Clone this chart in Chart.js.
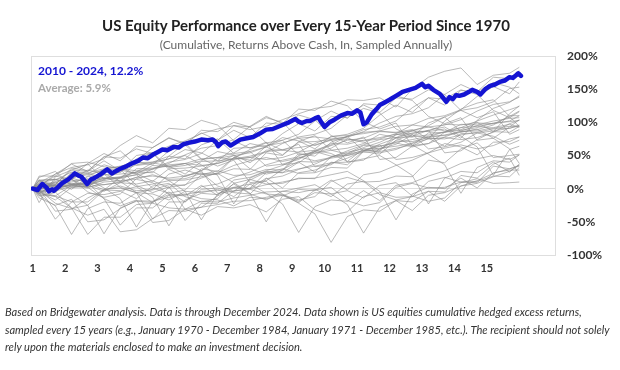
<!DOCTYPE html>
<html>
<head>
<meta charset="utf-8">
<script src="https://cdn.jsdelivr.net/npm/chart.js@4.4.1/dist/chart.umd.min.js"></script>
<style>
  html, body { margin: 0; padding: 0; background: #fff; }
  #wrap { position: relative; width: 620px; height: 370px; overflow: hidden; font-family: Lato, "Open Sans", sans-serif; }
  #chart { position: absolute; left: 0; top: 0; }
  .title { position: absolute; left: 0; width: 612px; top: 16px; text-align: center; font-size: 15px; font-weight: 700; color: #222; }
  .subtitle { position: absolute; left: 0; width: 612px; top: 37px; text-align: center; font-size: 12px; color: #666; }
  .lg { position: absolute; left: 38px; font-weight: 700; white-space: nowrap; }
  .lg1 { top: 63px; font-size: 12px; color: #1414d2; }
  .lg2 { top: 81px; font-size: 11.5px; color: #aaa; }
  .note { position: absolute; left: 5px; top: 303px; width: 615px; font-size: 11.1px; line-height: 17.5px; font-style: italic; color: #333; white-space: nowrap; }
</style>
</head>
<body>
<div id="wrap">
  <canvas id="chart" width="620" height="370"></canvas>
  <div class="title">US Equity Performance over Every 15-Year Period Since 1970</div>
  <div class="subtitle">(Cumulative, Returns Above Cash, In, Sampled Annually)</div>
  <div class="lg lg1">2010 - 2024, 12.2%</div>
  <div class="lg lg2">Average: 5.9%</div>
  <div class="note">Based on Bridgewater analysis. Data is through December 2024. Data shown is US equities cumulative hedged excess returns,<br>sampled every 15 years (e.g., January 1970 - December 1984, January 1971 - December 1985, etc.). The recipient should not solely<br>rely upon the materials enclosed to make an investment decision.</div>
</div>
<script>
// x positions are "year of period" (1 = start, 16 = end of year 15)
const xTicks = [1, 2, 3, 4, 5, 6, 7, 8, 9, 10, 11, 12, 13, 14, 15];
const yTicks = [-100, -50, 0, 50, 100, 150, 200];

// 2010 - 2024 path, cumulative %
const blueX = [1, 1.15, 1.3, 1.42, 1.5, 1.6, 1.65, 1.8, 1.9, 2.1, 2.3, 2.4, 2.5, 2.6, 2.68, 2.8, 2.9, 3.1, 3.3, 3.45,
  3.55, 3.7, 3.9, 4.1, 4.25, 4.4, 4.55, 4.7, 4.85, 5, 5.15, 5.35, 5.5, 5.65, 5.8, 6, 6.2, 6.4, 6.55, 6.65,
  6.72, 6.85, 6.95, 7.1, 7.2, 7.4, 7.6, 7.8, 8, 8.2, 8.4, 8.55, 8.7, 8.9, 9.1, 9.2, 9.3, 9.45, 9.55, 9.7,
  9.8, 9.9, 10, 10.15, 10.3, 10.5, 10.7, 10.85, 11, 11.1, 11.2, 11.3, 11.45, 11.6, 11.7, 11.85, 12, 12.2, 12.4, 12.6,
  12.8, 12.9, 13, 13.1, 13.2, 13.35, 13.45, 13.55, 13.65, 13.75, 13.85, 13.95, 14.05, 14.15, 14.3, 14.45, 14.55, 14.7, 14.8, 14.95,
  15.1, 15.25, 15.4, 15.55, 15.7, 15.8, 15.9, 15.97, 16.05];
const blueY = [0, -2, 7, 2, -4, -1, -3, 3, 8, 14, 23, 20, 18, 12, 7, 14, 16, 22, 29, 23,
  26, 30, 34, 39, 42, 47, 46, 51, 55, 59, 58, 63, 62, 67, 69, 71, 74, 73, 74, 70,
  64, 70, 71, 65, 68, 74, 76, 78, 83, 89, 90, 93, 96, 100, 105, 101, 99, 102, 102, 106,
  108, 100, 93, 100, 104, 110, 114, 113, 118, 115, 97, 100, 112, 120, 126, 130, 134, 140, 146, 149,
  152, 155, 158, 153, 155, 149, 146, 143, 137, 131, 138, 135, 141, 140, 142, 146, 149, 146, 142, 150,
  155, 157, 161, 163, 168, 167, 171, 174, 170];

// other 15-year periods, sampled at start, Mar/Sep of each year, and end
const grayX = [1, 1.2, 1.7, 2.2, 2.7, 3.2, 3.7, 4.2, 4.7, 5.2, 5.7, 6.2, 6.7, 7.2, 7.7, 8.2, 8.7,
  9.2, 9.7, 10.2, 10.7, 11.2, 11.7, 12.2, 12.7, 13.2, 13.7, 14.2, 14.7, 15.2, 15.7, 16];
const p1970 = [0, -4, -11, 5, 1, 10, 12, 14, 9, -8, -48, -22, -22, -3, -1, -8, -10, -19, -6, -8, -3, -14, 5, 9, -11, -19, -14, 9, 15, 8, 9, 10];
const p1971 = [0, 7, 3, 12, 14, 16, 11, -6, -46, -20, -20, -1, 1, -6, -8, -17, -4, -6, -1, -12, 7, 11, -9, -17, -12, 11, 17, 10, 11, 19, 18, 32];
const p1972 = [0, 3, 5, 7, 2, -15, -55, -29, -29, -10, -8, -15, -17, -26, -13, -15, -10, -21, -2, 2, -18, -26, -21, 2, 8, 1, 2, 10, 9, 34, 30, 34];
const p1973 = [0, -7, -12, -29, -69, -43, -43, -24, -22, -29, -31, -40, -27, -29, -24, -35, -16, -12, -32, -40, -35, -12, -6, -13, -12, -4, -5, 20, 16, 37, 46, 20];
const p1974 = [0, -6, -46, -20, -20, -1, 1, -6, -8, -17, -4, -6, -1, -12, 7, 11, -9, -17, -12, 11, 17, 10, 11, 19, 18, 43, 39, 60, 69, 47, 50, 52];
const p1975 = [0, 19, 19, 38, 40, 33, 31, 22, 35, 33, 38, 27, 46, 50, 30, 22, 27, 50, 56, 49, 50, 58, 57, 82, 78, 99, 108, 86, 89, 96, 110, 110];
const p1976 = [0, 12, 14, 7, 5, -4, 9, 7, 12, 1, 20, 24, 4, -4, 1, 24, 30, 23, 24, 32, 31, 56, 52, 73, 82, 60, 63, 70, 84, 79, 67, 73];
const p1977 = [0, -9, -11, -20, -7, -9, -4, -15, 4, 8, -12, -20, -15, 8, 14, 7, 8, 16, 15, 40, 36, 57, 66, 44, 47, 54, 68, 63, 51, 70, 71, 78];
const p1978 = [0, -7, 6, 4, 9, -2, 17, 21, 1, -7, -2, 21, 27, 20, 21, 29, 28, 53, 49, 70, 79, 57, 60, 67, 81, 76, 64, 83, 84, 87, 91, 95];
const p1979 = [0, 5, 10, -1, 18, 22, 2, -6, -1, 22, 28, 21, 22, 30, 29, 54, 50, 71, 80, 58, 61, 68, 82, 77, 65, 84, 85, 88, 92, 99, 101, 103];
const p1980 = [0, -8, 11, 15, -5, -13, -8, 15, 21, 14, 15, 23, 22, 47, 43, 64, 73, 51, 54, 61, 75, 70, 58, 77, 78, 81, 85, 92, 94, 91, 94, 93];
const p1981 = [0, -2, -22, -30, -25, -2, 4, -3, -2, 6, 5, 30, 26, 47, 56, 34, 37, 44, 58, 53, 41, 60, 61, 64, 68, 75, 77, 74, 77, 85, 98, 103];
const p1982 = [0, -11, -6, 17, 23, 16, 17, 25, 24, 49, 45, 66, 75, 53, 56, 63, 77, 72, 60, 79, 80, 83, 87, 94, 96, 93, 96, 104, 117, 127, 131, 138];
const p1983 = [0, 8, 14, 7, 8, 16, 15, 40, 36, 57, 66, 44, 47, 54, 68, 63, 51, 70, 71, 74, 78, 85, 87, 84, 87, 95, 108, 118, 122, 131, 151, 153];
const p1984 = [0, -5, -4, 4, 3, 28, 24, 45, 54, 32, 35, 42, 56, 51, 39, 58, 59, 62, 66, 73, 75, 72, 75, 83, 96, 106, 110, 119, 139, 154, 143, 161];
const p1985 = [0, 7, 6, 31, 27, 48, 57, 35, 38, 45, 59, 54, 42, 61, 62, 65, 69, 76, 78, 75, 78, 86, 99, 109, 113, 122, 142, 157, 146, 168, 166, 178];
const p1986 = [0, 11, 7, 28, 37, 15, 18, 25, 39, 34, 22, 41, 42, 45, 49, 56, 58, 55, 58, 66, 79, 89, 93, 102, 122, 137, 126, 148, 146, 160, 153, 143];
const p1987 = [0, 17, 26, 4, 7, 14, 28, 23, 11, 30, 31, 34, 38, 45, 47, 44, 47, 55, 68, 78, 82, 91, 111, 126, 115, 137, 135, 149, 142, 118, 107, 116];
const p1988 = [0, 4, 7, 14, 28, 23, 11, 30, 31, 34, 38, 45, 47, 44, 47, 55, 68, 78, 82, 91, 111, 126, 115, 137, 135, 149, 142, 118, 107, 116, 82, 89];
const p1989 = [0, 5, 19, 14, 2, 21, 22, 25, 29, 36, 38, 35, 38, 46, 59, 69, 73, 82, 102, 117, 106, 128, 126, 140, 133, 109, 98, 107, 73, 76, 93, 104];
const p1990 = [0, -5, -17, 2, 3, 6, 10, 17, 19, 16, 19, 27, 40, 50, 54, 63, 83, 98, 87, 109, 107, 121, 114, 90, 79, 88, 54, 57, 74, 86, 85, 94];
const p1991 = [0, 13, 14, 17, 21, 28, 30, 27, 30, 38, 51, 61, 65, 74, 94, 109, 98, 120, 118, 132, 125, 101, 90, 99, 65, 68, 85, 97, 96, 102, 106, 107];
const p1992 = [0, -4, 0, 7, 9, 6, 9, 17, 30, 40, 44, 53, 73, 88, 77, 99, 97, 111, 104, 80, 69, 78, 44, 47, 64, 76, 75, 81, 85, 90, 91, 96];
const p1993 = [0, 3, 5, 2, 5, 13, 26, 36, 40, 49, 69, 84, 73, 95, 93, 107, 100, 76, 65, 74, 40, 43, 60, 72, 71, 77, 81, 86, 87, 92, 97, 93];
const p1994 = [0, -5, -2, 6, 19, 29, 33, 42, 62, 77, 66, 88, 86, 100, 93, 69, 58, 67, 33, 36, 53, 65, 64, 70, 74, 79, 80, 85, 90, 76, 60, 38];
const p1995 = [0, 9, 22, 32, 36, 45, 65, 80, 69, 91, 89, 103, 96, 72, 61, 70, 36, 39, 56, 68, 67, 73, 77, 82, 83, 88, 93, 79, 63, 20, 59, 64];
const p1996 = [0, 5, 9, 18, 38, 53, 42, 64, 62, 76, 69, 45, 34, 43, 9, 12, 29, 41, 40, 46, 50, 55, 56, 61, 66, 52, 36, -7, 32, 42, 40, 51];
const p1997 = [0, 2, 22, 37, 26, 48, 46, 60, 53, 29, 18, 27, -7, -4, 13, 25, 24, 30, 34, 39, 40, 45, 50, 36, 20, -23, 16, 26, 24, 40, 25, 37];
const p1998 = [0, 13, 2, 24, 22, 36, 29, 5, -6, 3, -31, -28, -11, 1, 0, 6, 10, 15, 16, 21, 26, 12, -4, -47, -8, 2, 0, 16, 1, 24, 28, 28];
const p1999 = [0, 4, 2, 16, 9, -15, -26, -17, -51, -48, -31, -19, -20, -14, -10, -5, -4, 1, 6, -8, -24, -67, -28, -18, -20, -4, -19, 4, 8, 18, 26, 36];
const p2000 = [0, 2, -5, -29, -40, -31, -65, -62, -45, -33, -34, -28, -24, -19, -18, -13, -8, -22, -38, -81, -42, -32, -34, -18, -33, -10, -6, 4, 12, 23, 30, 35];
const p2001 = [0, -14, -25, -16, -50, -47, -30, -18, -19, -13, -9, -4, -3, 2, 7, -7, -23, -66, -27, -17, -19, -3, -18, 5, 9, 19, 27, 38, 45, 50, 44, 51];
const p2002 = [0, 0, -34, -31, -14, -2, -3, 3, 7, 12, 13, 18, 23, 9, -7, -50, -11, -1, -3, 13, -2, 21, 25, 35, 43, 54, 61, 66, 60, 65, 75, 78];
const p2003 = [0, -4, 13, 25, 24, 30, 34, 39, 40, 45, 50, 36, 20, -23, 16, 26, 24, 40, 25, 48, 52, 62, 70, 81, 88, 93, 87, 92, 102, 111, 119, 124];
const p2004 = [0, 1, 0, 6, 10, 15, 16, 21, 26, 12, -4, -47, -8, 2, 0, 16, 1, 24, 28, 38, 46, 57, 64, 69, 63, 68, 78, 87, 95, 98, 108, 94];
const p2005 = [0, -3, 1, 6, 7, 12, 17, 3, -13, -56, -17, -7, -9, 7, -8, 15, 19, 29, 37, 48, 55, 60, 54, 59, 69, 78, 86, 89, 99, 98, 102, 110];
const p2006 = [0, 4, 5, 10, 15, 1, -15, -58, -19, -9, -11, 5, -10, 13, 17, 27, 35, 46, 53, 58, 52, 57, 67, 76, 84, 87, 97, 96, 100, 86, 113, 125];
const p2007 = [0, 0, 5, -9, -25, -68, -29, -19, -21, -5, -20, 3, 7, 17, 25, 36, 43, 48, 42, 47, 57, 66, 74, 77, 87, 86, 90, 76, 103, 121, 130, 140];
const p2008 = [0, -10, -26, -69, -30, -20, -22, -6, -21, 2, 6, 16, 24, 35, 42, 47, 41, 46, 56, 65, 73, 76, 86, 85, 89, 75, 102, 120, 129, 134, 109, 117];
const p2009 = [0, -21, 18, 28, 26, 42, 27, 50, 54, 64, 72, 83, 90, 95, 89, 94, 104, 113, 121, 124, 134, 133, 137, 123, 150, 168, 177, 182, 157, 171, 174, 183];

const grayPaths = [p1970, p1971, p1972, p1973, p1974, p1975, p1976, p1977, p1978, p1979,
  p1980, p1981, p1982, p1983, p1984, p1985, p1986, p1987, p1988, p1989,
  p1990, p1991, p1992, p1993, p1994, p1995, p1996, p1997, p1998, p1999,
  p2000, p2001, p2002, p2003, p2004, p2005, p2006, p2007, p2008, p2009];

const toPoints = (xs, ys) => ys.map((y, i) => ({ x: xs[i], y: y }));

const datasets = [{
  label: '2010 - 2024',
  data: toPoints(blueX, blueY),
  borderColor: '#1414d2',
  borderWidth: 4.5,
  borderJoinStyle: 'round',
  borderCapStyle: 'round',
  pointRadius: 0,
  tension: 0
}];
grayPaths.forEach(p => {
  datasets.push({
    data: toPoints(grayX, p),
    borderColor: 'rgba(140, 140, 140, 0.6)',
    borderWidth: 1,
    pointRadius: 0,
    tension: 0
  });
});

// thin box round the plot area
const framePlugin = {
  id: 'frame',
  beforeDatasetsDraw(chart) {
    const { ctx, chartArea: a } = chart;
    ctx.save();
    ctx.strokeStyle = '#dedede';
    ctx.lineWidth = 1;
    ctx.strokeRect(Math.round(a.left) + 0.5, Math.round(a.top) + 0.5, Math.round(a.right - a.left), Math.round(a.bottom - a.top));
    ctx.restore();
  }
};

new Chart(document.getElementById('chart'), {
  type: 'line',
  data: { datasets: datasets },
  plugins: [framePlugin],
  options: {
    responsive: false,
    animation: false,
    events: [],
    layout: { padding: { left: 31, top: 56, right: 0, bottom: 85 } },
    plugins: { legend: { display: false }, tooltip: { enabled: false } },
    scales: {
      x: {
        type: 'linear',
        min: 0.95,
        max: 17.1,
        afterFit(scale) { scale.height = 30; },
        afterBuildTicks(scale) { scale.ticks = xTicks.map(v => ({ value: v })); },
        grid: { display: false, drawTicks: false },
        border: { display: false },
        ticks: {
          padding: 7,
          autoSkip: false,
          maxRotation: 0,
          color: '#333',
          font: { family: 'Lato', size: 11, weight: 'bold' },
          callback: v => String(v)
        }
      },
      y: {
        position: 'right',
        min: -100,
        max: 200,
        afterFit(scale) { scale.width = 65; },
        afterBuildTicks(scale) { scale.ticks = yTicks.map(v => ({ value: v })); },
        grid: {
          drawTicks: false,
          color: ctx => (ctx.tick && ctx.tick.value === 0 ? '#dedede' : 'rgba(0,0,0,0)')
        },
        border: { display: false },
        ticks: {
          padding: 12,
          color: '#333',
          font: { family: 'Lato', size: 12, weight: 'bold' },
          callback: v => v + '%'
        }
      }
    }
  }
});
</script>
</body>
</html>
